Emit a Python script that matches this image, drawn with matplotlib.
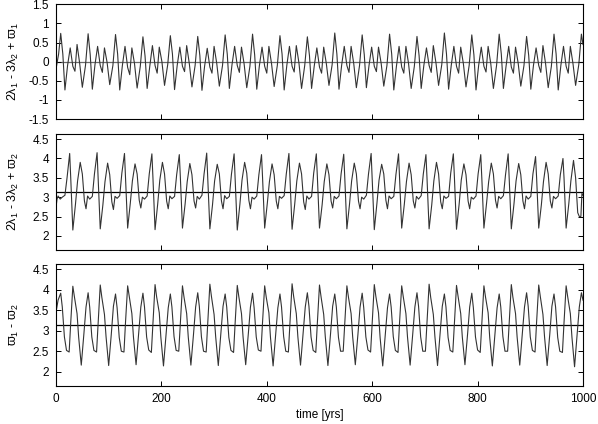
import numpy as np
import matplotlib.pyplot as plt

plt.rcParams['font.family'] = ['Liberation Sans', 'DejaVu Sans']
plt.rcParams['mathtext.default'] = 'regular'

# values, one line per ~52 yr cycle

# panel 1 : 2l1 - 3l2 + w1
t1 = [0, 5,
      9, 13, 17, 22, 27, 32, 36, 40, 45, 50, 56,
      61, 65, 69, 74, 79, 84, 88, 92, 97, 102, 108,
      113, 117, 121, 126, 131, 136, 140, 144, 149, 154, 160,
      165, 169, 173, 178, 183, 188, 192, 196, 201, 206, 212,
      217, 221, 225, 230, 235, 240, 244, 248, 253, 258, 264,
      269, 273, 277, 282, 287, 292, 296, 300, 305, 310, 316,
      321, 325, 329, 334, 339, 344, 348, 352, 357, 362, 368,
      373, 377, 381, 386, 391, 396, 400, 404, 409, 414, 420,
      425, 429, 433, 438, 443, 448, 452, 456, 461, 466, 472,
      477, 481, 485, 490, 495, 500, 504, 508, 513, 518, 524,
      529, 533, 537, 542, 547, 552, 556, 560, 565, 570, 576,
      581, 585, 589, 594, 599, 604, 608, 612, 617, 622, 628,
      633, 637, 641, 646, 651, 656, 660, 664, 669, 674, 680,
      685, 689, 693, 698, 703, 708, 712, 716, 721, 726, 732,
      737, 741, 745, 750, 755, 760, 764, 768, 773, 778, 784,
      789, 793, 797, 802, 807, 812, 816, 820, 825, 830, 836,
      841, 845, 849, 854, 859, 864, 868, 872, 877, 882, 888,
      893, 897, 901, 906, 911, 916, 920, 924, 929, 934, 940,
      945, 949, 953, 958, 963, 968, 972, 976, 981, 986, 992,
      997, 1000]
y1 = [-0.2, 0.2,
      0.74, 0.2, -0.74, -0.1, 0.36, -0.12, -0.25, 0.45, -0.05, -0.67, -0.1,
      0.73, 0.18, -0.72, -0.08, 0.4, -0.1, -0.28, 0.36, -0.02, -0.6, -0.1,
      0.71, 0.2, -0.74, -0.1, 0.4, -0.15, -0.34, 0.36, -0.05, -0.69, -0.12,
      0.65, 0.15, -0.7, -0.12, 0.42, -0.1, -0.3, 0.38, 0.0, -0.62, -0.08,
      0.68, 0.2, -0.73, -0.1, 0.38, -0.12, -0.26, 0.42, -0.05, -0.66, -0.1,
      0.66, 0.16, -0.75, -0.12, 0.35, -0.14, -0.3, 0.4, -0.04, -0.64, -0.1,
      0.7, 0.2, -0.7, -0.08, 0.4, -0.1, -0.28, 0.38, -0.06, -0.68, -0.12,
      0.72, 0.18, -0.72, -0.1, 0.38, -0.12, -0.3, 0.4, -0.05, -0.65, -0.1,
      0.68, 0.2, -0.74, -0.1, 0.4, -0.12, -0.27, 0.42, -0.03, -0.7, -0.1,
      0.65, 0.16, -0.7, -0.12, 0.36, -0.14, -0.3, 0.38, -0.05, -0.62, -0.08,
      0.75, 0.2, -0.72, -0.1, 0.4, -0.1, -0.28, 0.4, -0.05, -0.68, -0.1,
      0.7, 0.18, -0.68, -0.1, 0.38, -0.12, -0.26, 0.38, -0.04, -0.64, -0.1,
      0.72, 0.2, -0.74, -0.12, 0.4, -0.14, -0.3, 0.4, -0.05, -0.7, -0.12,
      0.66, 0.16, -0.7, -0.1, 0.36, -0.1, -0.28, 0.42, -0.03, -0.62, -0.08,
      0.75, 0.2, -0.72, -0.1, 0.4, -0.12, -0.3, 0.38, -0.05, -0.66, -0.1,
      0.7, 0.18, -0.74, -0.1, 0.38, -0.12, -0.27, 0.4, -0.05, -0.7, -0.1,
      0.72, 0.2, -0.7, -0.12, 0.4, -0.14, -0.3, 0.38, -0.04, -0.64, -0.1,
      0.66, 0.16, -0.72, -0.1, 0.36, -0.1, -0.28, 0.42, -0.05, -0.68, -0.12,
      0.72, 0.2, -0.74, -0.1, 0.4, -0.12, -0.3, 0.4, -0.05, -0.62, -0.08,
      0.72, 0.45]

# panel 2 : 2l1 - 3l2 + w2
t2 = [0, 2, 4, 8, 12, 17, 21,
      26, 28, 32, 37, 41, 46, 50, 54, 57, 60, 64, 69, 73,
      78, 80, 84, 89, 93, 98, 102, 106, 109, 112, 116, 121, 125,
      130, 132, 136, 141, 145, 150, 154, 158, 161, 164, 168, 173, 177,
      182, 184, 188, 193, 197, 202, 206, 210, 213, 216, 220, 225, 229,
      234, 236, 240, 245, 249, 254, 258, 262, 265, 268, 272, 277, 281,
      286, 288, 292, 297, 301, 306, 310, 314, 317, 320, 324, 329, 333,
      338, 340, 344, 349, 353, 358, 362, 366, 369, 372, 376, 381, 385,
      390, 392, 396, 401, 405, 410, 414, 418, 421, 424, 428, 433, 437,
      442, 444, 448, 453, 457, 462, 466, 470, 473, 476, 480, 485, 489,
      494, 496, 500, 505, 509, 514, 518, 522, 525, 528, 532, 537, 541,
      546, 548, 552, 557, 561, 566, 570, 574, 577, 580, 584, 589, 593,
      598, 600, 604, 609, 613, 618, 622, 626, 629, 632, 636, 641, 645,
      650, 652, 656, 661, 665, 670, 674, 678, 681, 684, 688, 693, 697,
      702, 704, 708, 713, 717, 722, 726, 730, 733, 736, 740, 745, 749,
      754, 756, 760, 765, 769, 774, 778, 782, 785, 788, 792, 797, 801,
      806, 808, 812, 817, 821, 826, 830, 834, 837, 840, 844, 849, 853,
      858, 860, 864, 869, 873, 878, 882, 886, 889, 892, 896, 901, 905,
      910, 912, 916, 921, 925, 930, 934, 938, 941, 944, 948, 953, 957,
      962, 964, 968, 973, 977, 982, 986, 990, 993, 996, 998, 1000]
y2 = [2.73, 2.95, 3.03, 2.95, 3.0, 3.05, 3.5,
      4.13, 3.5, 2.15, 2.82, 3.42, 3.9, 3.6, 2.9, 2.7, 3.03, 2.95, 3.02, 3.6,
      4.15, 3.5, 2.18, 2.8, 3.4, 3.88, 3.58, 2.88, 2.68, 3.02, 2.97, 3.04, 3.62,
      4.13, 3.48, 2.2, 2.84, 3.42, 3.86, 3.6, 2.92, 2.72, 3.0, 2.95, 3.03, 3.6,
      4.12, 3.5, 2.16, 2.82, 3.44, 3.9, 3.6, 2.9, 2.7, 3.03, 2.96, 3.02, 3.58,
      4.1, 3.52, 2.2, 2.82, 3.4, 3.87, 3.58, 2.9, 2.72, 3.02, 2.95, 3.05, 3.6,
      4.14, 3.5, 2.18, 2.8, 3.42, 3.85, 3.6, 2.9, 2.7, 3.04, 2.96, 3.02, 3.6,
      4.12, 3.48, 2.15, 2.82, 3.44, 3.9, 3.62, 2.92, 2.7, 3.0, 2.95, 3.03, 3.58,
      4.1, 3.5, 2.2, 2.84, 3.4, 3.86, 3.58, 2.9, 2.7, 3.02, 2.97, 3.04, 3.6,
      4.13, 3.5, 2.17, 2.82, 3.42, 3.88, 3.6, 2.88, 2.68, 3.03, 2.95, 3.02, 3.62,
      4.12, 3.52, 2.2, 2.8, 3.4, 3.86, 3.58, 2.9, 2.72, 3.02, 2.96, 3.03, 3.6,
      4.11, 3.5, 2.18, 2.82, 3.42, 3.88, 3.6, 2.9, 2.7, 3.0, 2.95, 3.05, 3.6,
      4.13, 3.48, 2.16, 2.84, 3.44, 3.85, 3.6, 2.92, 2.7, 3.03, 2.96, 3.02, 3.58,
      4.12, 3.5, 2.2, 2.82, 3.4, 3.88, 3.58, 2.9, 2.72, 3.02, 2.95, 3.04, 3.6,
      4.1, 3.5, 2.18, 2.8, 3.42, 3.9, 3.6, 2.88, 2.7, 3.03, 2.97, 3.02, 3.62,
      4.12, 3.52, 2.17, 2.82, 3.44, 3.86, 3.58, 2.9, 2.7, 3.0, 2.95, 3.03, 3.6,
      4.1, 3.5, 2.2, 2.84, 3.4, 3.88, 3.6, 2.92, 2.72, 3.02, 2.96, 3.04, 3.58,
      4.12, 3.48, 2.18, 2.82, 3.42, 3.87, 3.58, 2.9, 2.7, 3.03, 2.95, 3.02, 3.6,
      4.05, 3.5, 2.2, 2.8, 3.4, 3.9, 3.6, 2.9, 2.72, 3.02, 2.96, 3.03, 3.58,
      4.0, 3.5, 2.2, 2.82, 3.42, 3.95, 3.5, 2.6, 2.5, 2.5, 3.1, 3.05]

# panel 3 : w1 - w2
t3 = [0, 4, 9, 12, 16, 20, 25, 28,
      32, 35, 40, 43, 48, 53, 57, 61, 64, 68, 72, 77, 80,
      84, 87, 92, 95, 100, 105, 109, 113, 116, 120, 124, 129, 132,
      136, 139, 144, 147, 152, 157, 161, 165, 168, 172, 176, 181, 184,
      188, 191, 196, 199, 204, 209, 213, 217, 220, 224, 228, 233, 236,
      240, 243, 248, 251, 256, 261, 265, 269, 272, 276, 280, 285, 288,
      292, 295, 300, 303, 308, 313, 317, 321, 324, 328, 332, 337, 340,
      344, 347, 352, 355, 360, 365, 369, 373, 376, 380, 384, 389, 392,
      396, 399, 404, 407, 412, 417, 421, 425, 428, 432, 436, 441, 444,
      448, 451, 456, 459, 464, 469, 473, 477, 480, 484, 488, 493, 496,
      500, 503, 508, 511, 516, 521, 525, 529, 532, 536, 540, 545, 548,
      552, 555, 560, 563, 568, 573, 577, 581, 584, 588, 592, 597, 600,
      604, 607, 612, 615, 620, 625, 629, 633, 636, 640, 644, 649, 652,
      656, 659, 664, 667, 672, 677, 681, 685, 688, 692, 696, 701, 704,
      708, 711, 716, 719, 724, 729, 733, 737, 740, 744, 748, 753, 756,
      760, 763, 768, 771, 776, 781, 785, 789, 792, 796, 800, 805, 808,
      812, 815, 820, 823, 828, 833, 837, 841, 844, 848, 852, 857, 860,
      864, 867, 872, 875, 880, 885, 889, 893, 896, 900, 904, 909, 912,
      916, 919, 924, 927, 932, 937, 941, 945, 948, 952, 956, 961, 964,
      968, 971, 976, 979, 984, 989, 993, 997, 1000]
y3 = [3.45, 3.75, 3.92, 3.58, 2.85, 2.52, 2.48, 3.2,
      4.09, 3.83, 3.42, 2.85, 2.16, 2.93, 3.58, 3.93, 3.58, 2.85, 2.52, 2.48, 3.2,
      4.12, 3.82, 3.4, 2.86, 2.15, 2.92, 3.6, 3.9, 3.56, 2.84, 2.5, 2.48, 3.22,
      4.1, 3.84, 3.42, 2.85, 2.17, 2.95, 3.58, 3.92, 3.58, 2.85, 2.53, 2.47, 3.2,
      4.13, 3.83, 3.44, 2.84, 2.14, 2.93, 3.56, 3.9, 3.58, 2.86, 2.52, 2.5, 3.2,
      4.1, 3.82, 3.42, 2.85, 2.16, 2.92, 3.58, 3.93, 3.6, 2.85, 2.5, 2.48, 3.18,
      4.14, 3.84, 3.4, 2.86, 2.15, 2.94, 3.6, 3.9, 3.58, 2.84, 2.52, 2.47, 3.2,
      4.11, 3.83, 3.42, 2.85, 2.17, 2.93, 3.58, 3.92, 3.56, 2.85, 2.53, 2.5, 3.22,
      4.1, 3.82, 3.44, 2.84, 2.14, 2.92, 3.56, 3.9, 3.58, 2.86, 2.5, 2.48, 3.2,
      4.15, 3.84, 3.42, 2.85, 2.16, 2.95, 3.58, 3.93, 3.6, 2.85, 2.52, 2.47, 3.2,
      4.12, 3.83, 3.4, 2.86, 2.15, 2.93, 3.6, 3.9, 3.58, 2.84, 2.5, 2.5, 3.18,
      4.1, 3.82, 3.42, 2.85, 2.17, 2.92, 3.58, 3.92, 3.56, 2.85, 2.53, 2.48, 3.2,
      4.13, 3.84, 3.44, 2.84, 2.14, 2.94, 3.56, 3.9, 3.58, 2.86, 2.52, 2.47, 3.22,
      4.1, 3.83, 3.42, 2.85, 2.16, 2.93, 3.58, 3.93, 3.6, 2.85, 2.5, 2.5, 3.2,
      4.14, 3.82, 3.4, 2.86, 2.15, 2.95, 3.6, 3.9, 3.58, 2.84, 2.52, 2.48, 3.2,
      4.11, 3.84, 3.42, 2.85, 2.17, 2.92, 3.58, 3.92, 3.56, 2.85, 2.53, 2.47, 3.18,
      4.1, 3.83, 3.44, 2.84, 2.14, 2.93, 3.56, 3.9, 3.58, 2.86, 2.5, 2.5, 3.2,
      4.13, 3.82, 3.42, 2.85, 2.16, 2.94, 3.58, 3.93, 3.6, 2.85, 2.52, 2.48, 3.22,
      4.12, 3.84, 3.4, 2.86, 2.15, 2.92, 3.6, 3.9, 3.58, 2.84, 2.5, 2.47, 3.2,
      4.1, 3.83, 3.42, 2.85, 2.12, 2.93, 3.58, 3.93, 3.75]

ylabels = [u'2\u03bb$_1$ - 3\u03bb$_2$ + \u03d6$_1$',
           u'2\u03bb$_1$ - 3\u03bb$_2$ + \u03d6$_2$',
           u'\u03d6$_1$ - \u03d6$_2$']
ref_level = [0.0, np.pi, np.pi]
ref_color = ['#6a6a6a', 'black', 'black']
ylims = [(-1.5, 1.5), (np.pi - 1.5, np.pi + 1.5), (np.pi - 1.5, np.pi + 1.5)]
yticks = [[-1.5, -1, -0.5, 0, 0.5, 1, 1.5], [2, 2.5, 3, 3.5, 4, 4.5], [2, 2.5, 3, 3.5, 4, 4.5]]
series = [(t1, y1), (t2, y2), (t3, y3)]

fig = plt.figure(figsize=(5.98, 4.24), dpi=100)
boxes = [[0.0936, 0.7193, 0.8813, 0.2705],
         [0.0936, 0.4111, 0.8813, 0.2736],
         [0.0936, 0.0889, 0.8813, 0.2892]]

for i in range(3):
    ax = fig.add_axes(boxes[i])
    t, y = series[i]
    ax.axhline(ref_level[i], color=ref_color[i], lw=0.9, zorder=1)
    ax.plot(t, y, color='#333333', lw=0.8, zorder=2)
    ax.set_xlim(0, 1000)
    ax.set_ylim(*ylims[i])
    ax.set_xticks([0, 200, 400, 600, 800, 1000])
    ax.set_yticks(yticks[i])
    ax.set_yticklabels(['%g' % v for v in yticks[i]])
    ax.tick_params(direction='in', top=True, right=True, length=3.5, width=0.7,
                   labelsize=8.5)
    ax.tick_params(axis='y', pad=5)
    ax.tick_params(axis='x', pad=4.5)
    for s in ax.spines.values():
        s.set_linewidth(0.8)
    ax.set_ylabel(ylabels[i], fontsize=9)
    ax.yaxis.set_label_coords(-0.067, 0.5)
    if i < 2:
        ax.tick_params(labelbottom=False)
    else:
        ax.set_xlabel('time [yrs]', fontsize=8.5, labelpad=3)

fig.savefig('out.png', dpi=100)
